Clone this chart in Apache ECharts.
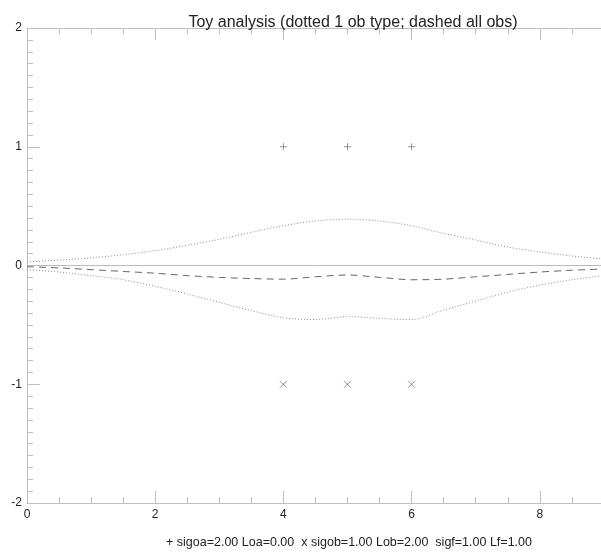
<!DOCTYPE html>
<html>
<head>
<meta charset="utf-8">
<script src="https://cdn.jsdelivr.net/npm/echarts@6/dist/echarts.min.js"></script>
<style>
  html, body { margin: 0; padding: 0; background: #fff; }
  #main { width: 601px; height: 552px; }
</style>
</head>
<body>
<div id="main"></div>
<script>
// values
var xs = [0, 0.5, 1, 1.5, 2, 2.5, 3, 3.5, 4, 4.5, 5, 5.5, 6, 6.5, 7, 7.5, 8, 8.5, 9];
var upperDotted = [0.03, 0.045, 0.065, 0.09, 0.125, 0.17, 0.22, 0.28, 0.335, 0.375, 0.39, 0.375, 0.335, 0.27, 0.215, 0.155, 0.115, 0.08, 0.055];
var lowerDotted = [-0.035, -0.055, -0.085, -0.12, -0.175, -0.24, -0.31, -0.38, -0.44, -0.455, -0.43, -0.445, -0.455, -0.375, -0.3, -0.225, -0.165, -0.12, -0.085];
var dashedAll = [-0.01, -0.02, -0.035, -0.05, -0.065, -0.085, -0.1, -0.11, -0.115, -0.095, -0.08, -0.1, -0.12, -0.115, -0.095, -0.075, -0.055, -0.04, -0.03];
var zeroX = [0, 10];
var zeroY = [0, 0];
var plusX = [4, 5, 6];
var plusY = [1, 1, 1];
var crossX = [4, 5, 6];
var crossY = [-1, -1, -1];

var titleText = 'Toy analysis (dotted 1 ob type; dashed all obs)';
var noteText = '+ sigoa=2.00 Loa=0.00  x sigob=1.00 Lob=2.00  sigf=1.00 Lf=1.00';

function pairs(a, b) {
    var out = [];
    for (var i = 0; i < a.length; i++) out.push([a[i], b[i]]);
    return out;
}

var font = 'Liberation Sans, Arial, Helvetica, sans-serif';
var axisGray = '#bdbdbd';

function xAxisCfg(pos, labels) {
    return {
        type: 'value', position: pos, min: 0, max: 10, interval: 2,
        axisLine: { show: true, onZero: false, lineStyle: { color: axisGray } },
        axisTick: { show: true, inside: true, length: 12, lineStyle: { color: axisGray } },
        minorTick: { show: true, splitNumber: 4, length: 6, lineStyle: { color: axisGray } },
        splitLine: { show: false },
        axisLabel: { show: labels, margin: 6, color: '#222', fontSize: 12, fontFamily: font, showMaxLabel: false }
    };
}

var mChart = echarts.init(document.getElementById('main'), null, { renderer: 'canvas' });
mChart.setOption({
    animation: false,
    backgroundColor: '#fff',
    title: [
        { text: titleText, left: 348, top: 10, textAlign: 'center',
          textStyle: { fontSize: 16, fontWeight: 'normal', color: '#222', fontFamily: font } },
        { text: noteText, left: 344, top: 531, textAlign: 'center',
          textStyle: { fontSize: 12.5, fontWeight: 'normal', color: '#222', fontFamily: font } }
    ],
    // the plot box runs past the right edge of the picture
    grid: { left: 27, top: 28, width: 641, height: 475, containLabel: false, outerBoundsMode: 'none' },
    xAxis: [xAxisCfg('bottom', true), xAxisCfg('top', false)],
    yAxis: {
        type: 'value', min: -2, max: 2, interval: 1,
        axisLine: { show: true, onZero: false, lineStyle: { color: axisGray } },
        axisTick: { show: true, inside: true, length: 13, lineStyle: { color: axisGray } },
        minorTick: { show: true, splitNumber: 10, length: 6, lineStyle: { color: axisGray } },
        splitLine: { show: false },
        axisLabel: { margin: 5, color: '#222', fontSize: 12, fontFamily: font, padding: [6, 0, 0, 0] }
    },
    series: [
        { type: 'line', data: pairs(zeroX, zeroY), showSymbol: false, silent: true,
          lineStyle: { color: '#bbbbbb', width: 1 } },
        { type: 'line', data: pairs(xs, upperDotted), showSymbol: false, smooth: 0.3,
          lineStyle: { color: '#8a8a8a', width: 1, type: [1, 2] } },
        { type: 'line', data: pairs(xs, lowerDotted), showSymbol: false, smooth: 0.3,
          lineStyle: { color: '#8a8a8a', width: 1, type: [1, 2] } },
        { type: 'line', data: pairs(xs, dashedAll), showSymbol: false, smooth: 0.3,
          lineStyle: { color: '#666666', width: 1, type: [7, 5] } },
        { type: 'scatter', data: pairs(plusX, plusY), symbol: 'path://M0,4L8,4M4,0L4,8', symbolSize: 7,
          itemStyle: { color: 'transparent', borderColor: '#777', borderWidth: 1 } },
        { type: 'scatter', data: pairs(crossX, crossY), symbol: 'path://M0,0L8,8M8,0L0,8', symbolSize: 7,
          itemStyle: { color: 'transparent', borderColor: '#777', borderWidth: 1 } }
    ]
});
</script>
</body>
</html>
